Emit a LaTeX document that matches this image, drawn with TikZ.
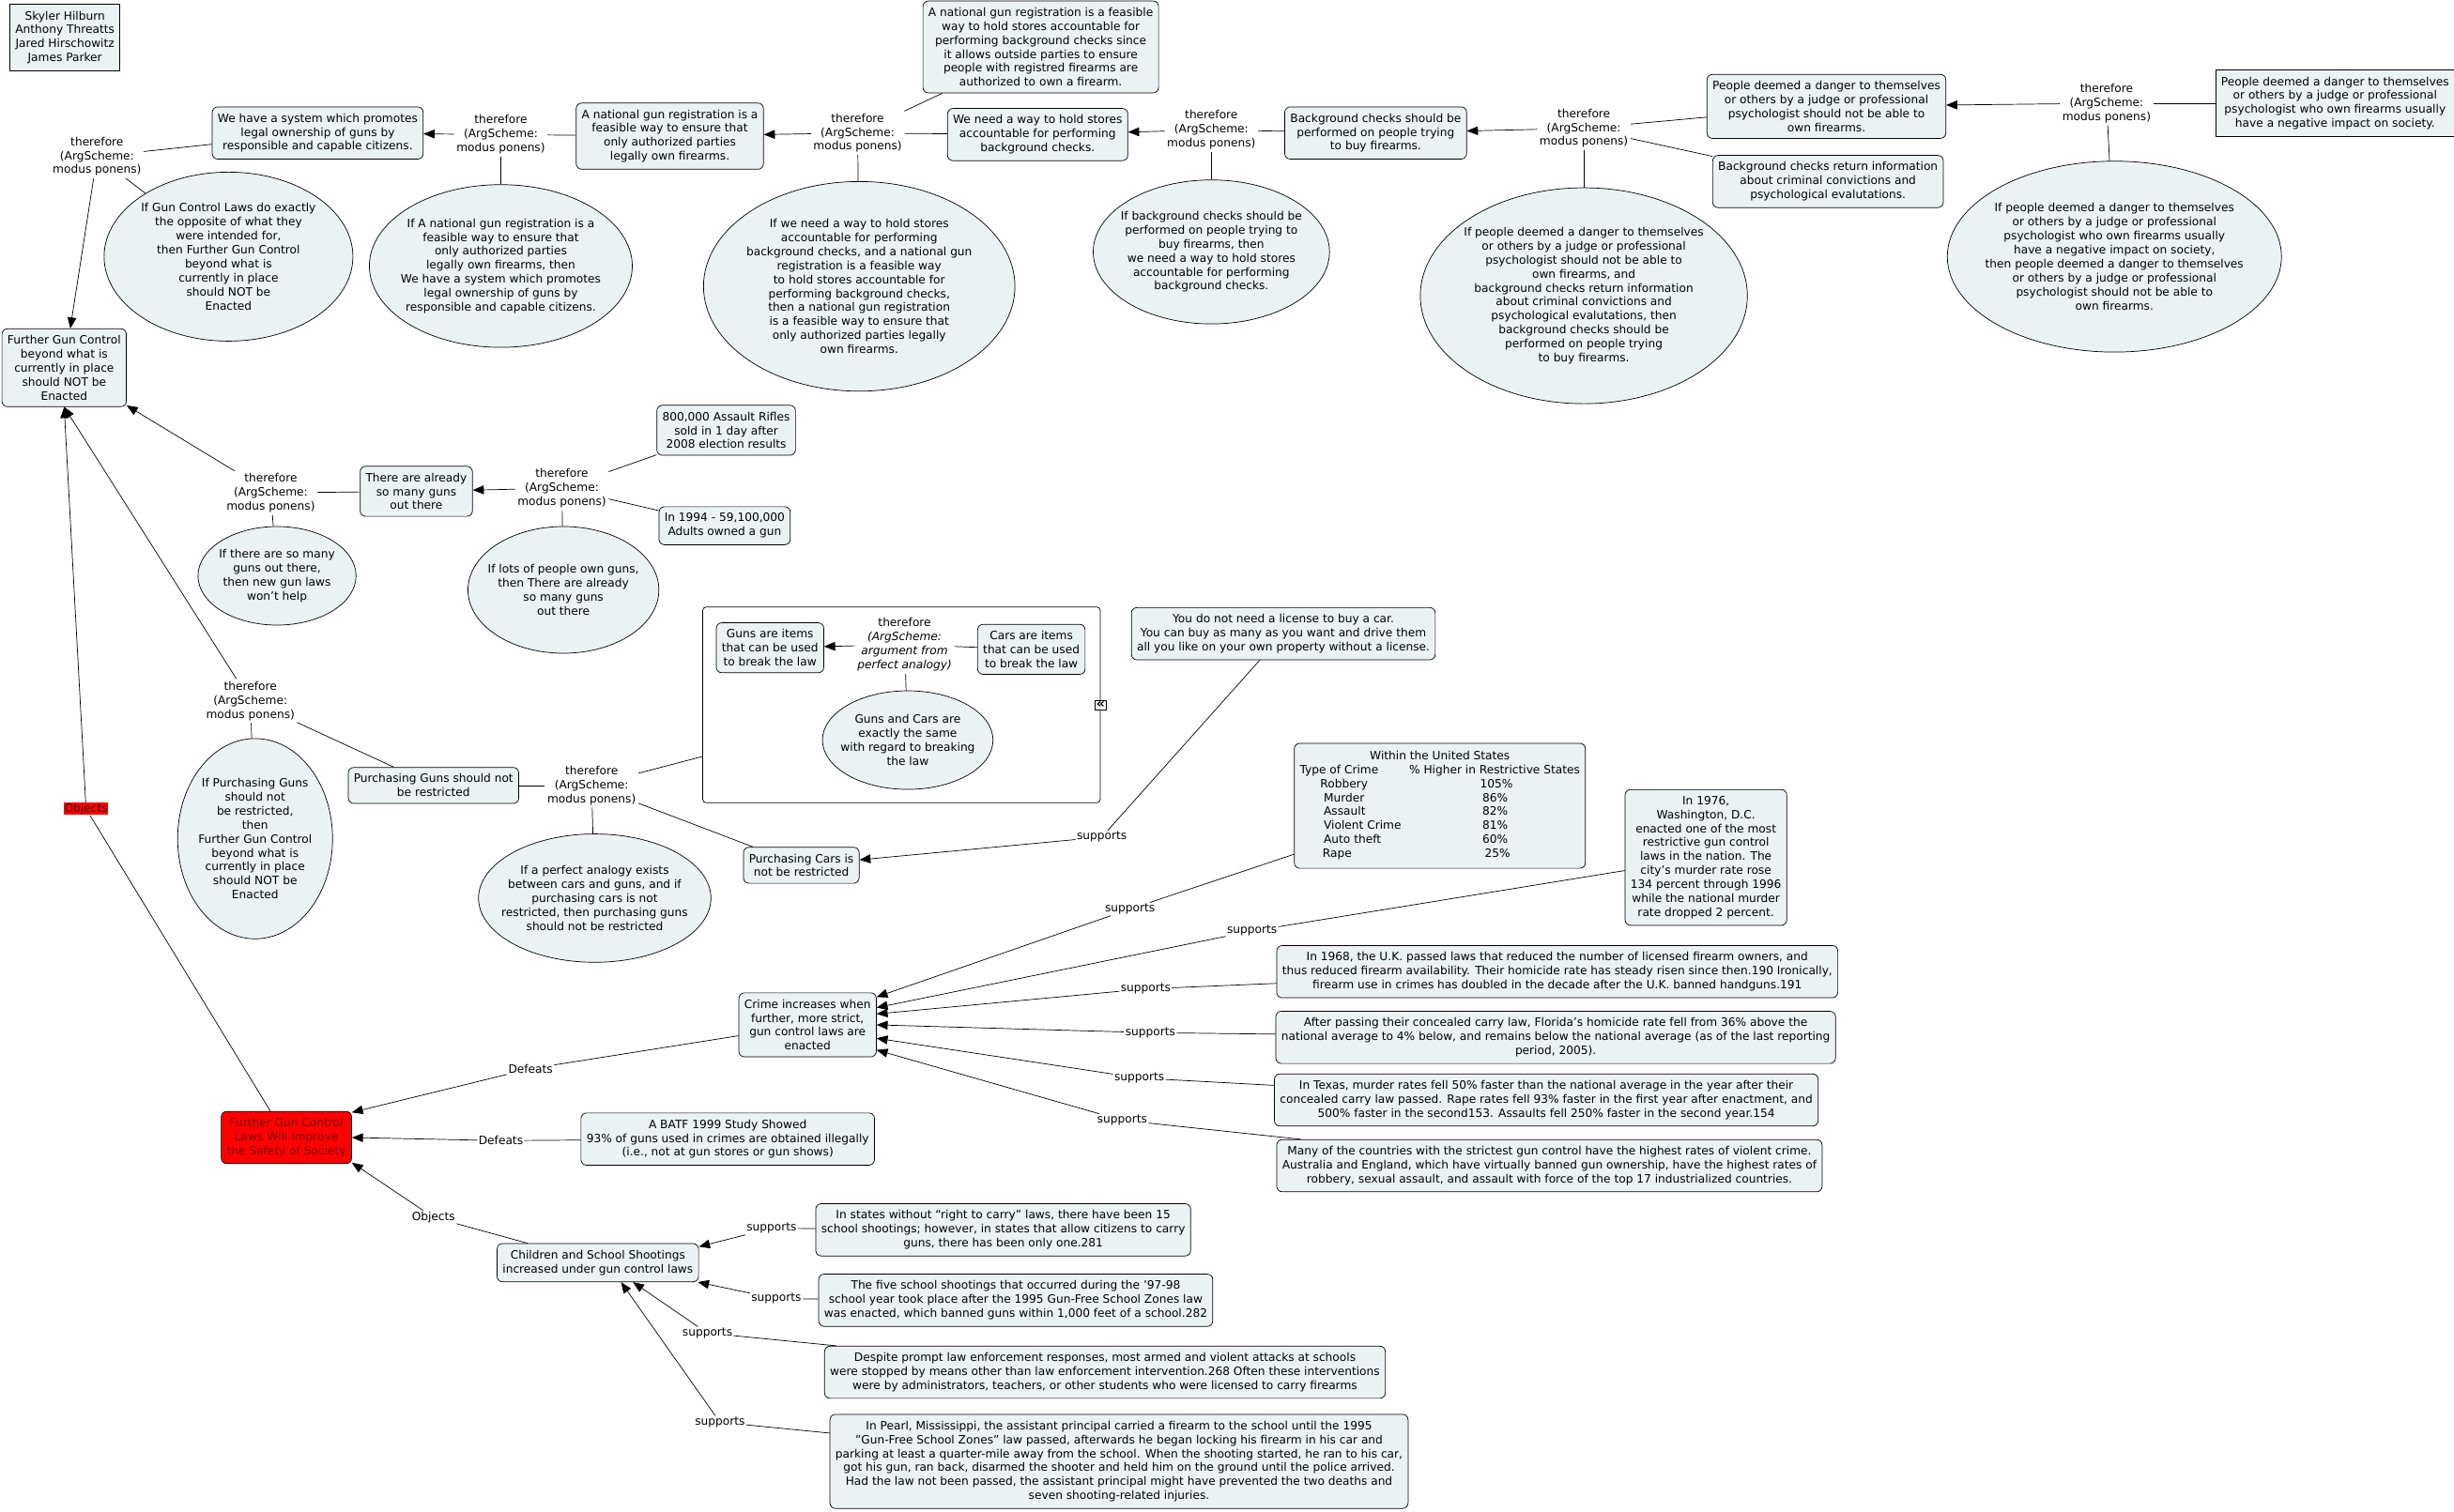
\documentclass[tikz,border=0pt]{standalone}
\usepackage{fontspec}
\setmainfont{DejaVu Sans}
\usetikzlibrary{arrows.meta, shapes.geometric, positioning}
\definecolor{mapFill}{HTML}{EBF2F4}
\definecolor{mapRed}{HTML}{FF0000}
\definecolor{mapDarkRed}{HTML}{7A0000}
\definecolor{mapInk}{HTML}{3A0000}

\begin{document}
\begin{tikzpicture}[
  x=0.05cm, y=-0.05cm,
  font=\fontsize{10.4}{12.7}\selectfont, line width=0.6pt,
  claim/.style={draw, rounded corners=5pt, fill=mapFill, align=center,
                inner xsep=5pt, inner ysep=6pt},
  sqclaim/.style={claim, rounded corners=0pt},
  prem/.style={draw, ellipse, fill=mapFill, align=center, inner sep=-10pt},
  scheme/.style={align=center, inner sep=2pt},
  lbl/.style={fill=white, inner sep=1pt},
  ar/.style={-{Triangle[length=10pt, width=8pt]}},
]
\path[use as bounding box, fill=white] (0,0) rectangle (1568,966);

% top chain
\node[sqclaim] (authors) at (41.5,24) {Skyler Hilburn\\Anthony Threatts\\Jared Hirschowitz\\James Parker};
\node[claim] (haveSystem) at (203,85) {We have a system which promotes\\legal ownership of guns by\\responsible and capable citizens.};
\node[claim] (further) at (41,235) {Further Gun Control\\beyond what is\\currently in place\\should NOT be\\Enacted};
\node[claim] (natEnsure) at (428,87) {A national gun registration is a\\feasible way to ensure that\\only authorized parties\\legally own firearms.};
\node[claim] (natHold) at (665,30) {A national gun registration is a feasible\\way to hold stores accountable for\\performing background checks since\\it allows outside parties to ensure\\people with registred firearms are\\authorized to own a firearm.};
\node[claim] (needWay) at (663,86) {We need a way to hold stores\\accountable for performing\\background checks.};
\node[claim] (bgBuy) at (879,85) {Background checks should be\\performed on people trying\\to buy firearms.};
\node[claim] (danger) at (1167,68) {People deemed a danger to themselves\\or others by a judge or professional\\psychologist should not be able to\\own firearms.};
\node[claim] (retInfo) at (1168,116) {Background checks return information\\about criminal convictions and\\psychological evalutations.};
\node[sqclaim] (negative) at (1492,66) {People deemed a danger to themselves\\or others by a judge or professional\\psychologist who own firearms usually\\have a negative impact on society.};

\node[scheme] (thA) at (62,100) {therefore\\(ArgScheme:\\modus ponens)};
\node[scheme] (thB) at (320,86) {therefore\\(ArgScheme:\\modus ponens)};
\node[scheme] (thC) at (548,85) {therefore\\(ArgScheme:\\modus ponens)};
\node[scheme] (thD) at (774,83) {therefore\\(ArgScheme:\\modus ponens)};
\node[scheme] (thE) at (1012,82) {therefore\\(ArgScheme:\\modus ponens)};
\node[scheme] (thF) at (1346,66) {therefore\\(ArgScheme:\\modus ponens)};

\node[prem, minimum width=7.95cm, minimum height=5.4cm] (ifGunLaws) at (146,164) {If Gun Control Laws do exactly\\the opposite of what they\\were intended for,\\then Further Gun Control\\beyond what is\\currently in place\\should NOT be\\Enacted};
\node[prem, minimum width=8.4cm, minimum height=5.2cm] (ifNational) at (320,170) {If A national gun registration is a\\feasible way to ensure that\\only authorized parties\\legally own firearms, then\\We have a system which promotes\\legal ownership of guns by\\responsible and capable citizens.};
\node[prem, minimum width=9.95cm, minimum height=6.7cm] (ifNeedWay) at (549,183) {If we need a way to hold stores\\accountable for performing\\background checks, and a national gun\\registration is a feasible way\\to hold stores accountable for\\performing background checks,\\then a national gun registration\\is a feasible way to ensure that\\only authorized parties legally\\own firearms.};
\node[prem, minimum width=7.55cm, minimum height=4.6cm] (ifBg) at (774,161) {If background checks should be\\performed on people trying to\\buy firearms, then\\we need a way to hold stores\\accountable for performing\\background checks.};
\node[prem, minimum width=10.45cm, minimum height=6.9cm] (ifPeople) at (1012,189) {If people deemed a danger to themselves\\or others by a judge or professional\\psychologist should not be able to\\own firearms, and\\background checks return information\\about criminal convictions and\\psychological evalutations, then\\background checks should be\\performed on people trying\\to buy firearms.};
\node[prem, minimum width=10.5cm, minimum height=6.1cm] (ifPeopleNeg) at (1351,164) {If people deemed a danger to themselves\\or others by a judge or professional\\psychologist who own firearms usually\\have a negative impact on society,\\then people deemed a danger to themselves\\or others by a judge or professional\\psychologist should not be able to\\own firearms.};

% middle left
\node[claim] (manyGuns) at (266,314) {There are already\\so many guns\\out there};
\node[claim] (rifles) at (464,275) {800,000 Assault Rifles\\sold in 1 day after\\2008 election results};
\node[claim] (adults) at (463,336) {In 1994 - 59,100,000\\Adults owned a gun};
\node[scheme] (thG) at (173,315) {therefore\\(ArgScheme:\\modus ponens)};
\node[scheme] (thH) at (359,312) {therefore\\(ArgScheme:\\modus ponens)};
\node[prem, minimum width=5.05cm, minimum height=3.15cm] (ifSoMany) at (177,368) {If there are so many\\guns out there,\\then new gun laws\\won't help};
\node[prem, minimum width=6.1cm, minimum height=4.05cm] (ifLots) at (360,377) {If lots of people own guns,\\then There are already\\so many guns\\out there};

\node[scheme] (thI) at (160,448) {therefore\\(ArgScheme:\\modus ponens)};
\node[prem, minimum width=4.95cm, minimum height=6.4cm] (ifPurch) at (163,536) {If Purchasing Guns\\should not\\be restricted,\\then\\Further Gun Control\\beyond what is\\currently in place\\should NOT be\\Enacted};
\node[claim] (purchGuns) at (277,502) {Purchasing Guns should not\\be restricted};
\node[scheme] (thJ) at (378,502) {therefore\\(ArgScheme:\\modus ponens)};
\node[prem, minimum width=7.35cm, minimum height=4.1cm] (ifPerfect) at (380,574) {If a perfect analogy exists\\between cars and guns, and if\\purchasing cars is not\\restricted, then purchasing guns\\should not be restricted};
\node[claim] (purchCars) at (512,553) {Purchasing Cars is\\not be restricted};

% analogy group
\node[draw, rounded corners=3pt, fill=white, minimum width=12.7cm, minimum height=6.25cm] (analogy) at (576,450.5) {};
\node[draw, fill=white, inner sep=1.2pt, font=\fontsize{12}{12}\selectfont\bfseries] (collapse) at (analogy.east) {«};
\node[claim] (gunsItems) at (492,414) {Guns are items\\that can be used\\to break the law};
\node[claim] (carsItems) at (659,415) {Cars are items\\that can be used\\to break the law};
\node[scheme] (thK) at (578,412) {therefore\\\textit{(ArgScheme:}\\\textit{argument from}\\\textit{perfect analogy)}};
\node[prem, minimum width=5.45cm, minimum height=3.15cm] (sameLaw) at (580,473) {Guns and Cars are\\exactly the same\\with regard to breaking\\the law};

\node[claim] (license) at (820,405) {You do not need a license to buy a car.\\You can buy as many as you want and drive them\\all you like on your own property without a license.};

% evidence
\node[claim] (table) at (920,515) {\begin{tabular}{@{}l@{\hspace{0.7em}}l@{}}
\multicolumn{2}{c}{Within the United States}\\
Type of Crime & \% Higher in Restrictive States\\
\hspace{1.8em}Robbery & \hspace{6.2em}105\%\\
\hspace{2.1em}Murder & \hspace{6.4em}86\%\\
\hspace{2.1em}Assault & \hspace{6.4em}82\%\\
\hspace{2.1em}Violent Crime & \hspace{6.4em}81\%\\
\hspace{2.1em}Auto theft & \hspace{6.4em}60\%\\
\hspace{2.0em}Rape & \hspace{6.6em}25\%
\end{tabular}};
\node[claim] (dc) at (1090,548) {In 1976,\\Washington, D.C.\\enacted one of the most\\restrictive gun control\\laws in the nation. The\\city's murder rate rose\\134 percent through 1996\\while the national murder\\rate dropped 2 percent.};
\node[claim] (uk) at (995,621) {In 1968, the U.K. passed laws that reduced the number of licensed firearm owners, and\\thus reduced firearm availability. Their homicide rate has steady risen since then.190 Ironically,\\firearm use in crimes has doubled in the decade after the U.K. banned handguns.191};
\node[claim] (florida) at (994,663) {After passing their concealed carry law, Florida's homicide rate fell from 36\% above the\\national average to 4\% below, and remains below the national average (as of the last reporting\\period, 2005).};
\node[claim] (texas) at (988,703) {In Texas, murder rates fell 50\% faster than the national average in the year after their\\concealed carry law passed. Rape rates fell 93\% faster in the first year after enactment, and\\500\% faster in the second153. Assaults fell 250\% faster in the second year.154};
\node[claim] (many) at (990,745) {Many of the countries with the strictest gun control have the highest rates of violent crime.\\Australia and England, which have virtually banned gun ownership, have the highest rates of\\robbery, sexual assault, and assault with force of the top 17 industrialized countries.};
\node[claim] (crime) at (516,655) {Crime increases when\\further, more strict,\\gun control laws are\\enacted};

% bottom
\node[claim, fill=mapRed, text=mapDarkRed] (red) at (183,727) {Further Gun Control\\Laws Will Improve\\the Safety of Society};
\node[claim] (batf) at (465,728) {A BATF 1999 Study Showed\\93\% of guns used in crimes are obtained illegally\\(i.e., not at gun stores or gun shows)};
\node[claim] (children) at (382,807) {Children and School Shootings\\increased under gun control laws};
\node[claim] (rtc) at (641,786) {In states without “right to carry” laws, there have been 15\\school shootings; however, in states that allow citizens to carry\\guns, there has been only one.281};
\node[claim] (five) at (649,831) {The five school shootings that occurred during the '97-98\\school year took place after the 1995 Gun-Free School Zones law\\was enacted, which banned guns within 1,000 feet of a school.282};
\node[claim] (despite) at (706,877) {Despite prompt law enforcement responses, most armed and violent attacks at schools\\were stopped by means other than law enforcement intervention.268 Often these interventions\\were by administrators, teachers, or other students who were licensed to carry firearms};
\node[claim] (pearl) at (715,934) {In Pearl, Mississippi, the assistant principal carried a firearm to the school until the 1995\\"Gun-Free School Zones" law passed, afterwards he began locking his firearm in his car and\\parking at least a quarter-mile away from the school. When the shooting started, he ran to his car,\\got his gun, ran back, disarmed the shooter and held him on the ground until the police arrived.\\Had the law not been passed, the assistant principal might have prevented the two deaths and\\seven shooting-related injuries.};

% link labels
\node[lbl] (sLic) at (704,535) {supports};
\node[lbl] (sTab) at (722,581) {supports};
\node[lbl] (sDc) at (800,595) {supports};
\node[lbl] (sUk) at (732,632) {supports};
\node[lbl] (sFl) at (735,660) {supports};
\node[lbl] (sTx) at (728,689) {supports};
\node[lbl] (sMc) at (717,716) {supports};
\node[lbl] (sDef1) at (339,683) {Defeats};
\node[lbl] (sDef2) at (320,729) {Defeats};
\node[lbl] (sObj2) at (277,778) {Objects};
\node[lbl, fill=mapRed, text=mapInk, inner sep=0.5pt] (sObj1) at (55,517) {Objects};
\node[lbl] (sRtc) at (493,785) {supports};
\node[lbl] (sFive) at (496,830) {supports};
\node[lbl] (sDes) at (452,852) {supports};
\node[lbl] (sPearl) at (460,909) {supports};

\foreach \a/\b in {thA/further, thB/haveSystem, thC/natEnsure, thD/needWay, thE/bgBuy,
                   thF/danger, thG/further, thH/manyGuns, thI/further.south, thK/gunsItems}
  \draw[ar] (\a) -- (\b);
\foreach \a/\b in {haveSystem/thA, thA/ifGunLaws, natEnsure/thB, thB/ifNational,
                   needWay/thC, natHold/thC, thC/ifNeedWay, bgBuy/thD, thD/ifBg,
                   danger/thE, retInfo/thE, thE/ifPeople, negative/thF, thF/ifPeopleNeg,
                   manyGuns/thG, thG/ifSoMany, rifles/thH, adults/thH, thH/ifLots,
                   purchGuns/thI, thI/ifPurch, purchGuns/thJ, thJ/analogy, thJ/purchCars,
                   thJ/ifPerfect, carsItems/thK, thK/sameLaw}
  \draw (\a) -- (\b);
\foreach \s/\l/\t in {license/sLic/purchCars, table/sTab/crime.22, dc/sDc/crime.14,
                      uk/sUk/crime.9, florida/sFl/crime.0, texas/sTx/crime.-11,
                      many/sMc/crime.-20, crime/sDef1/red.21, batf/sDef2/red.0,
                      children/sObj2/red.-21, red/sObj1/further.south,
                      rtc/sRtc/children.9, five/sFive/children.-11,
                      despite/sDes/children.-29, pearl/sPearl/children.-40} {
  \draw (\s) -- (\l);
  \draw[ar] (\l) -- (\t);
}
\end{tikzpicture}
\end{document}
